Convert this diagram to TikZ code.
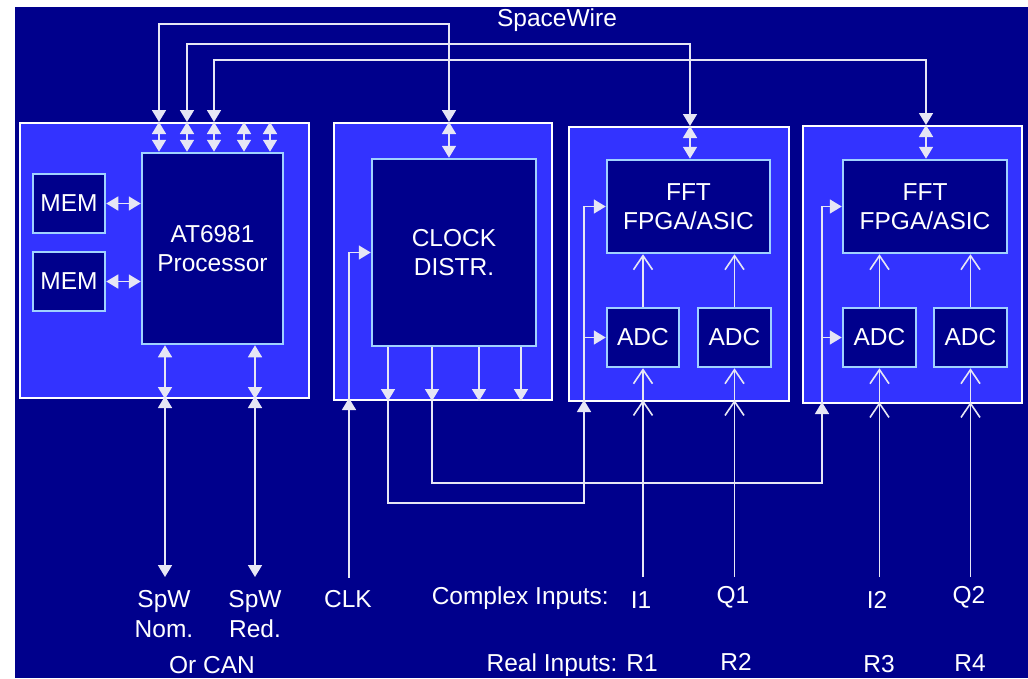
\documentclass[tikz,border=0pt]{standalone}
\usepackage{fontspec}
\setmainfont{Liberation Sans}
\usetikzlibrary{arrows.meta}
\definecolor{bgblue}{RGB}{0,0,140}
\definecolor{boxblue}{RGB}{51,51,255}
\definecolor{inedge}{RGB}{160,210,255}
\definecolor{wire}{RGB}{230,230,245}
\begin{document}
\begin{tikzpicture}[x=1pt,y=-1pt,
  outer/.style={draw=white,line width=2pt,fill=boxblue,inner sep=0pt},
  inner/.style={draw=inedge,line width=2.5pt,fill=bgblue,inner sep=0pt,text=white,
    font=\fontsize{24.5}{29}\selectfont,align=center},
  lbl/.style={text=white,font=\fontsize{24.5}{30}\selectfont,align=center,inner sep=0pt},
  ln/.style={draw=wire,line width=1.6pt},
  fwd/.style={ln,-{Triangle[width=14pt,length=12pt]}},
  bidir/.style={ln,{Triangle[width=14pt,length=12pt]}-{Triangle[width=14pt,length=12pt]}},
  opn/.style={ln,-{Straight Barb[width=19pt,length=14pt,line width=1.6pt]}}
]
\useasboundingbox (0,0) rectangle (1028,678);
\fill[bgblue] (15,7) rectangle (1028,678);

% outer boards
\node[outer,minimum width=289pt,minimum height=275pt] (box1) at (164.5,260.5) {};
\node[outer,minimum width=218pt,minimum height=277pt] (box2) at (443,261.5) {};
\node[outer,minimum width=220pt,minimum height=274pt] (box3) at (679,264) {};
\node[outer,minimum width=219pt,minimum height=277pt] (box4) at (912.5,264.5) {};

% inner blocks
\node[inner,minimum width=141pt,minimum height=191pt] (proc) at (212.5,248.5) {AT6981\\Processor};
\node[inner,minimum width=72pt,minimum height=59pt] (mem1) at (69,203.5) {MEM};
\node[inner,minimum width=72pt,minimum height=59pt] (mem2) at (69,281.5) {MEM};
\node[inner,minimum width=164pt,minimum height=187pt] (clock) at (454,252.5) {CLOCK\\DISTR.};
\node[inner,minimum width=163pt,minimum height=93pt] (fft1) at (688.5,206.5) {FFT\\FPGA/ASIC};
\node[inner,minimum width=164pt,minimum height=93pt] (fft2) at (925,206.5) {FFT\\FPGA/ASIC};
\node[inner,minimum width=72pt,minimum height=59pt] (adc1) at (643,337.5) {ADC};
\node[inner,minimum width=73pt,minimum height=59pt] (adc2) at (734.5,337.5) {ADC};
\node[inner,minimum width=73pt,minimum height=59pt] (adc3) at (879.5,337.5) {ADC};
\node[inner,minimum width=73pt,minimum height=59pt] (adc4) at (970.5,337.5) {ADC};

% labels
\node[lbl] (sw) at (557,20) {SpaceWire};
\node[lbl] (lnom) at (164,614.5) {SpW\\Nom.};
\node[lbl] (lred) at (255,614.5) {SpW\\Red.};
\node[lbl] (lclk) at (348,599) {CLK};
\node[lbl,anchor=east] (lcomplex) at (609,598) {Complex Inputs:};
\node[lbl] (li1) at (641,600) {I1};
\node[lbl] (lq1) at (733,597) {Q1};
\node[lbl] (li2) at (877,600) {I2};
\node[lbl] (lq2) at (969,597) {Q2};
\node[lbl] (lcan) at (212,665) {Or CAN};
\node[lbl,anchor=east] (lreal) at (658,665) {Real Inputs: R1};
\node[lbl] (lr2) at (736,662) {R2};
\node[lbl] (lr3) at (879,664) {R3};
\node[lbl] (lr4) at (970,663) {R4};

% free ends at the bottom
\coordinate (spwn) at (165,577);
\coordinate (spwr) at (255,577);
\coordinate (clkin) at (349,578);
\coordinate (in1) at (adc1.south |- 0,577);
\coordinate (in2) at (adc2.south |- 0,577);
\coordinate (in3) at (adc3.south |- 0,577);
\coordinate (in4) at (adc4.south |- 0,577);

% SpaceWire bus
\draw[bidir] (box1.north -| 159,0) |- (449,24) -- (box2.north -| 449,0);
\draw[bidir] (box1.north -| 187,0) |- (690,44) -- (box3.north -| 690,0);
\draw[bidir] (box1.north -| 214,0) |- (926,60) -- (box4.north -| 926,0);

% processor top ports
\foreach \xx in {159,187,214,244,270}
  \draw[bidir] (box1.north -| \xx,0) -- (proc.north -| \xx,0);
\draw[bidir] (box2.north -| 449,0) -- (clock.north -| 449,0);
\draw[bidir] (box3.north -| 690,0) -- (fft1.north -| 690,0);
\draw[bidir] (box4.north -| 926,0) -- (fft2.north -| 926,0);

% memories
\draw[bidir] (mem1.east) -- (mem1.east -| proc.west);
\draw[bidir] (mem2.east) -- (mem2.east -| proc.west);

% processor bottom ports
\draw[bidir] (proc.south -| 165,0) -- (box1.south -| 165,0);
\draw[bidir] (proc.south -| 255,0) -- (box1.south -| 255,0);
\draw[bidir] ([yshift=3pt]box1.south -| 165,0) -- (spwn);
\draw[bidir] ([yshift=3pt]box1.south -| 255,0) -- (spwr);

% clock input
\draw[fwd] (clkin) -- ([yshift=3pt]box2.south -| 349,0);
\draw[fwd] (box2.south -| 349,0) |- (clock.west);

% clock outputs
\foreach \xx in {388,432,479,521}
  \draw[fwd] (clock.south -| \xx,0) -- (box2.south -| \xx,0);
\draw[fwd] (box2.south -| 388,0) |- (584,503) -- ([yshift=2pt]box3.south -| 584,0);
\draw[fwd] (box2.south -| 432,0) |- (822,483) -- ([yshift=2pt]box4.south -| 822,0);
\draw[fwd] (box3.south -| 584,0) |- (fft1.west);
\draw[fwd] (adc1.west -| 584,0) -- (adc1.west);
\draw[fwd] (box4.south -| 822,0) |- (fft2.west);
\draw[fwd] (adc3.west -| 822,0) -- (adc3.west);

% analog inputs
\draw[opn] (in1) -- ([yshift=2pt]adc1.south |- box3.south);
\draw[opn] (adc1.south |- box3.south) -- (adc1.south);
\draw[opn] (in2) -- ([yshift=2pt]adc2.south |- box3.south);
\draw[opn] (adc2.south |- box3.south) -- (adc2.south);
\draw[opn] (in3) -- ([yshift=2pt]adc3.south |- box4.south);
\draw[opn] (adc3.south |- box4.south) -- (adc3.south);
\draw[opn] (in4) -- ([yshift=2pt]adc4.south |- box4.south);
\draw[opn] (adc4.south |- box4.south) -- (adc4.south);

% ADC to FFT
\draw[opn] (adc1.north) -- (adc1.north |- fft1.south);
\draw[opn] (adc2.north) -- (adc2.north |- fft1.south);
\draw[opn] (adc3.north) -- (adc3.north |- fft2.south);
\draw[opn] (adc4.north) -- (adc4.north |- fft2.south);
\end{tikzpicture}
\end{document}
